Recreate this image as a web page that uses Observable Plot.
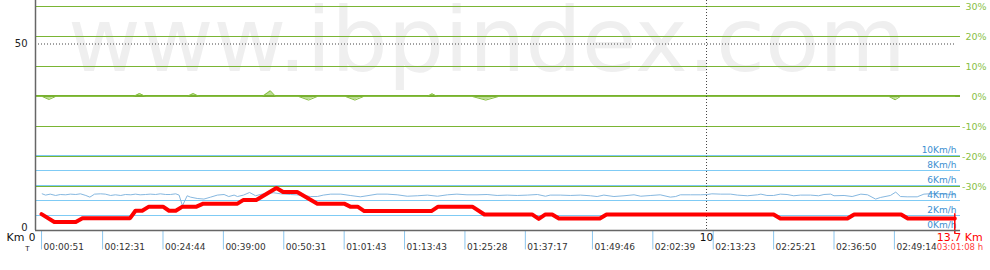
<!DOCTYPE html>
<html><head><meta charset="utf-8">
<script src="https://cdn.jsdelivr.net/npm/d3@7"></script>
<script src="https://cdn.jsdelivr.net/npm/@observablehq/plot@0.6"></script>
<style>
body{margin:0;background:#fff;}
#chart{position:relative;width:990px;height:270px;overflow:hidden;background:#fff;}
#chart svg{position:absolute;left:0;top:0;}
</style></head><body><div id="chart"></div>
<script>
// ---- data ----
const watermark = "www.ibpindex.com";
// altitude profile (km, m)
const altKm = [0.09,0.28,0.60,0.70,1.41,1.49,1.59,1.69,1.90,1.99,2.09,2.19,2.40,2.50,3.01,3.10,3.29,3.59,3.69,3.90,4.20,4.60,4.69,4.80,4.90,5.90,6.00,6.51,6.69,7.40,7.50,7.60,7.70,7.80,8.41,8.51,11.00,11.10,12.10,12.20,12.90,13.00,13.70];
const altM  = [4.4,2.3,2.3,3.3,3.3,5.3,5.3,6.4,6.4,5.3,5.3,6.4,6.4,7.2,7.2,8.2,8.2,11.4,10.3,10.3,7.2,7.2,6.4,6.4,5.2,5.2,6.4,6.4,4.3,4.3,3.1,4.3,4.3,3.2,3.2,4.3,4.3,3.2,3.2,4.3,4.3,3.2,3.2];
// speed (km, km/h)
const speedKm = [0.10,0.15,0.22,0.30,0.37,0.45,0.52,0.60,0.67,0.75,0.81,0.88,0.97,1.04,1.12,1.19,1.27,1.34,1.42,1.49,1.56,1.64,1.71,1.79,1.86,1.94,2.01,2.09,2.14,2.19,2.26,2.31,2.41,2.51,2.61,2.71,2.81,2.88,2.96,3.01,3.10,3.19,3.28,3.35,3.45,3.55,3.65,3.80,3.95,4.10,4.20,4.29,
 4.40,4.55,4.69,4.84,4.94,5.09,5.24,5.39,5.54,5.69,5.84,5.99,6.14,6.28,6.43,6.58,6.73,6.88,7.03,7.18,7.33,7.48,7.60,7.67,7.82,7.97,8.12,8.27,8.37,8.47,8.62,8.77,8.92,9.02,9.17,
 9.31,9.46,9.54,9.61,9.76,9.91,10.01,10.08,10.21,10.36,10.46,10.61,10.76,10.81,10.90,11.00,11.10,11.20,11.30,11.40,11.55,11.67,11.75,11.85,
 11.90,12.05,12.17,12.30,12.40,12.52,12.59,12.74,12.82,12.89,12.99,13.14,13.24,13.39,13.59,13.71];
const speedKmh = [4.89,4.72,4.85,4.67,4.8,4.76,4.85,4.8,4.89,4.67,4.45,4.85,4.89,4.85,4.67,4.76,4.67,4.8,4.76,4.85,4.76,4.8,4.85,4.8,4.89,4.8,4.8,4.89,4.72,3.29,4.63,4.45,4.27,4.19,4.45,4.72,4.8,4.53,4.72,4.53,4.72,5.07,4.63,4.8,4.96,5.03,4.89,4.8,4.72,4.53,4.53,4.72,
 4.85,4.85,4.67,4.49,4.63,4.85,4.85,4.76,4.57,4.63,4.72,4.57,4.76,4.85,4.76,4.76,4.8,4.67,4.72,4.67,4.72,4.8,4.57,4.72,4.72,4.67,4.72,4.63,4.53,4.72,4.53,4.63,4.76,4.57,4.67,
 4.76,4.45,4.53,4.76,4.76,4.76,4.8,4.89,4.85,4.85,4.72,4.63,4.76,4.85,4.67,4.67,4.85,4.8,4.63,4.72,4.72,4.63,4.8,4.85,
 4.63,4.67,4.53,4.85,4.76,4.19,4.4,4.67,5.12,4.53,4.49,4.49,4.85,4.93,4.85,4.76];
// slope (km, %)
const slopeKm  = [0,0.10,0.20,0.30,1.46,1.55,1.64,2.26,2.35,2.44,3.38,3.50,3.58,3.92,4.07,4.20,4.62,4.76,4.89,5.84,5.91,5.99,6.51,6.71,6.90,12.72,12.81,12.89,13.7];
const slopePct = [0,0,-1.0,0,0,1.0,0,0,1.0,0,0,1.9,0,0,-1.2,0,0,-1.2,0,0,0.9,0,0,-1.2,0,0,-1.1,0,0];
// ticks and labels
const slopeTicks  = [30,20,10,0,-10,-20,-30];
const slopeLabels = ["30%","20%","10%","0%","-10%","-20%","-30%"];
const speedTicks  = [10,8,6,4,2,0];
const speedLabels = ["10Km/h","8Km/h","6Km/h","4Km/h","2Km/h","0Km/h"];
const altTicks  = [50,0];
const altLabels = ["50","0"];
const kmMarks  = [0,10];
const kmLabels = ["0","10"];
const timeKm = [0.09,1.0,1.9,2.8,3.7,4.6,5.5,6.4,7.3,8.3,9.2,10.1,11.0,11.9,12.8];
const timeLabels = ["00:00:51","00:12:31","00:24:44","00:39:00","00:50:31","01:01:43","01:13:43","01:25:28","01:37:17","01:49:46","02:02:39","02:13:23","02:25:21","02:36:50","02:49:14"];
const totalKm = 13.7;
const totalDist = "13.7 Km";
const totalTime = "03:01:08 h";

// ---- layout ----
const FONT = "DejaVu Sans";
const base = {
  width: 990, height: 270, marginLeft: 35, marginRight: 30, marginTop: 0, marginBottom: 40,
  x: {domain: [0, 13.785], axis: null},
  style: {background: "transparent", fontFamily: FONT, overflow: "visible"}
};
const slope = slopeKm.map((k, i) => ({km: k, pct: slopePct[i]}));
const speed = speedKm.map((k, i) => ({km: k, v: speedKmh[i]}));
const alt = altKm.map((k, i) => ({km: k, m: altM[i]}));
const GREEN = "#7ab534";

const slopeLayer = Plot.plot({...base,
  y: {domain: [-30, 30], range: [186, 6], axis: null},
  marks: [
    Plot.text([watermark], {frameAnchor: "top", text: d => d, textAnchor: "middle", lineAnchor: "bottom",
      dx: -11, dy: 70.5, fontSize: 89, fill: "#efefef"}),
    Plot.ruleY(slopeTicks.filter(t => t !== 0), {y: d => d, stroke: GREEN, strokeWidth: 1}),
    Plot.areaY(slope, {x: "km", y1: 0, y2: "pct", fill: "#bcdc94"}),
    Plot.ruleY([0], {stroke: "#78b030", strokeWidth: 2, dy: -0.5}),
    Plot.lineY(slope, {x: "km", y: "pct", stroke: "#86c040", strokeWidth: 1}),
    Plot.text(slopeTicks, {y: d => d, text: (d, i) => slopeLabels[i], frameAnchor: "right", textAnchor: "end",
      dx: 26, dy: 0.5, fontSize: 9.5, fill: "#88bf45"})
  ]
});

const speedLayer = Plot.plot({...base,
  y: {domain: [0, 10], range: [230, 155], axis: null},
  marks: [
    Plot.ruleY(speedTicks.filter(t => t > 0), {y: d => d, stroke: "#7fcbf5", strokeWidth: 1}),
    Plot.lineY(speed, {x: "km", y: "v", stroke: "#86b8e0", strokeWidth: 1}),
    Plot.text(speedTicks, {y: d => d, text: (d, i) => speedLabels[i], frameAnchor: "right", textAnchor: "end",
      dx: -4, dy: -5, fontSize: 9, fill: "#3d8fd1"})
  ]
});

const altLayer = Plot.plot({...base,
  y: {domain: [0, 50], range: [230, 43.5], axis: null},
  marks: [
    Plot.ruleY([50], {x1: 0, x2: totalKm, stroke: "#444", strokeDasharray: "1,2"}),
    Plot.ruleX([10], {stroke: "#444", strokeDasharray: "1,2"}),
    Plot.ruleX(timeKm, {x: d => d, y1: 0, y2: -5.2, stroke: "#8cc6ee"}),
    Plot.lineY(alt, {x: "km", y: "m", stroke: "#ff0000", strokeWidth: 4}),
    Plot.ruleX([totalKm], {y1: -1.0, y2: 4.5, stroke: "#ff0000", strokeWidth: 1.5}),
    Plot.ruleX([0], {stroke: "#666", strokeWidth: 1.5}),
    Plot.ruleY([0], {stroke: "#666", strokeWidth: 1.5}),
    Plot.text([altTicks[0]], {y: d => d, text: () => altLabels[0], frameAnchor: "left", textAnchor: "end",
      dx: -8, dy: -0.5, fontSize: 10, fill: "#222"}),
    Plot.text([altTicks[1]], {y: d => d, text: () => altLabels[1], frameAnchor: "left", textAnchor: "end",
      dx: -8, dy: -2.5, fontSize: 10, fill: "#222"}),
    Plot.text([kmMarks[0]], {x: d => d, text: () => kmLabels[0], frameAnchor: "bottom", textAnchor: "end",
      dy: 10, fontSize: 10.5, fill: "#111"}),
    Plot.text([kmMarks[1]], {x: d => d, text: () => kmLabels[1], frameAnchor: "bottom", textAnchor: "middle",
      dy: 10, fontSize: 10.5, fill: "#111"}),
    Plot.text(["Km"], {text: d => d, frameAnchor: "bottom-left", textAnchor: "end", dx: -11, dy: 10, fontSize: 11, fill: "#111"}),
    Plot.text(["T"], {text: d => d, frameAnchor: "bottom-left", textAnchor: "middle", dx: -8, dy: 20, fontSize: 7, fill: "#222"}),
    Plot.text(timeKm, {x: d => d, text: (d, i) => timeLabels[i], frameAnchor: "bottom", textAnchor: "start",
      dx: 2, dy: 19.5, fontSize: 9, fill: "#333"}),
    Plot.text([totalKm], {x: d => d, text: () => totalDist, frameAnchor: "bottom", textAnchor: "start",
      dx: -18, dy: 10, fontSize: 11, fill: "#ff0000"}),
    Plot.text([totalKm], {x: d => d, text: () => totalTime, frameAnchor: "bottom", textAnchor: "start",
      dx: -18, dy: 19.5, fontSize: 8.5, fill: "#ff4040"})
  ]
});

const el = document.getElementById("chart");
el.append(slopeLayer, speedLayer, altLayer);
</script></body></html>
